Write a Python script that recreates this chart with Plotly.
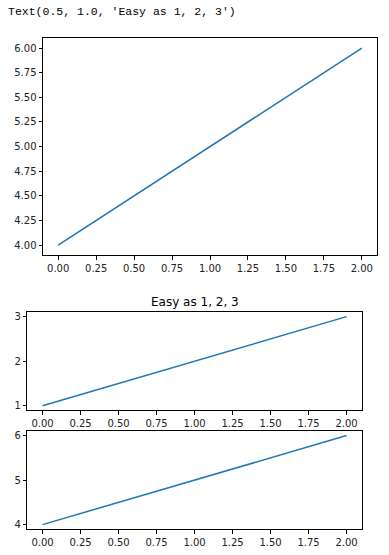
import plotly.graph_objects as go

# Data
x_vals = [0, 1, 2]
top_y = [4, 5, 6]
mid_y = [1, 2, 3]
bot_y = [4, 5, 6]
x_ticks = [0, 0.25, 0.5, 0.75, 1.0, 1.25, 1.5, 1.75, 2.0]
top_y_ticks = [4.0, 4.25, 4.5, 4.75, 5.0, 5.25, 5.5, 5.75, 6.0]
mid_y_ticks = [1, 2, 3]
bot_y_ticks = [4, 5, 6]
title_text = "Easy as 1, 2, 3"
output_text = "Text(0.5, 1.0, 'Easy as 1, 2, 3')"

W, H = 389, 555
LINE = "#1f77b4"


def px_x(p):
    return p / W


def px_y(p):
    return 1 - p / H


fig = go.Figure()
fig.add_trace(go.Scatter(x=x_vals, y=top_y, mode="lines", line=dict(color=LINE, width=1.5),
                         xaxis="x", yaxis="y", showlegend=False))
fig.add_trace(go.Scatter(x=x_vals, y=mid_y, mode="lines", line=dict(color=LINE, width=1.5),
                         xaxis="x2", yaxis="y2", showlegend=False))
fig.add_trace(go.Scatter(x=x_vals, y=bot_y, mode="lines", line=dict(color=LINE, width=1.5),
                         xaxis="x3", yaxis="y3", showlegend=False))

axis_common = dict(showline=True, mirror=True, linecolor="black", linewidth=1,
                   ticks="outside", ticklen=3.5, tickwidth=1, tickcolor="black",
                   showgrid=False, zeroline=False,
                   tickfont=dict(family="DejaVu Sans", size=10, color="#222"))

fig.update_layout(
    width=W, height=H,
    margin=dict(l=0, r=0, t=0, b=0),
    paper_bgcolor="white", plot_bgcolor="white",
    xaxis=dict(axis_common, domain=[px_x(43), px_x(377)], anchor="y",
               range=[-0.1, 2.1], tickvals=x_ticks,
               ticktext=[f"{v:.2f}" for v in x_ticks]),
    yaxis=dict(axis_common, domain=[px_y(255), px_y(37.3)], anchor="x",
               range=[3.9, 6.1], tickvals=top_y_ticks,
               ticktext=[f"{v:.2f}" for v in top_y_ticks]),
    xaxis2=dict(axis_common, domain=[px_x(27.3), px_x(361.7)], anchor="y2",
                range=[-0.1, 2.1], tickvals=x_ticks,
                ticktext=[f"{v:.2f}" for v in x_ticks]),
    yaxis2=dict(axis_common, domain=[px_y(410.7), px_y(312.3)], anchor="x2",
                range=[0.9, 3.1], tickvals=mid_y_ticks,
                ticktext=[str(v) for v in mid_y_ticks]),
    xaxis3=dict(axis_common, domain=[px_x(27.3), px_x(361.7)], anchor="y3",
                range=[-0.1, 2.1], tickvals=x_ticks,
                ticktext=[f"{v:.2f}" for v in x_ticks]),
    yaxis3=dict(axis_common, domain=[px_y(530), px_y(431.7)], anchor="x3",
                range=[3.9, 6.1], tickvals=bot_y_ticks,
                ticktext=[str(v) for v in bot_y_ticks]),
    annotations=[
        dict(text=output_text, xref="paper", yref="paper",
             x=px_x(6), y=px_y(11), xanchor="left", yanchor="middle",
             showarrow=False, font=dict(family="Liberation Mono", size=11.5, color="black")),
        dict(text=title_text, xref="paper", yref="paper",
             x=px_x((27.3 + 361.7) / 2), y=px_y(302.5), xanchor="center", yanchor="middle",
             showarrow=False, font=dict(family="DejaVu Sans", size=12, color="black")),
    ],
)

fig.write_html("out.html",
               config={"displayModeBar": False},
               post_script="document.body.style.margin='0';document.body.style.overflow='hidden';")
